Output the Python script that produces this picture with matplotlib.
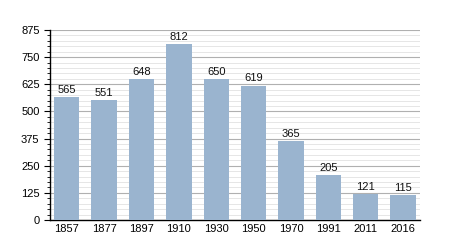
import matplotlib
matplotlib.use('Agg')
import matplotlib.pyplot as plt
from matplotlib.ticker import MultipleLocator

plt.rcParams['font.family'] = ['Liberation Sans', 'DejaVu Sans']

# dados
anos = ['1857', '1877', '1897', '1910', '1930', '1950', '1970', '1991', '2011', '2016']
populacao = [565, 551, 648, 812, 650, 619, 365, 205, 121, 115]

fig = plt.figure(figsize=(4.5, 2.5), dpi=100)
ax = fig.add_axes([0.111, 0.12, 0.822, 0.76])

x = range(len(anos))
ax.bar(x, populacao, width=0.68, color='#9ab4cf', zorder=3)

for xi, v in zip(x, populacao):
    ax.text(xi, v + 10, str(v), ha='center', va='bottom', fontsize=8, color='#111111', zorder=4)

ax.set_xlim(-0.45, len(anos) - 0.55)
ax.set_ylim(0, 875)
ax.set_xticks(list(x))
ax.set_xticklabels(anos, fontsize=8)
ax.yaxis.set_major_locator(MultipleLocator(125))
ax.yaxis.set_minor_locator(MultipleLocator(25))
ax.tick_params(axis='y', labelsize=8, length=4, width=0.8)
ax.tick_params(axis='y', which='minor', length=2, width=0.6)
ax.tick_params(axis='x', length=0, pad=3)

ax.grid(which='major', axis='y', color='#b0b0b0', linewidth=0.8, zorder=0)
ax.grid(which='minor', axis='y', color='#e2e2e2', linewidth=0.6, zorder=0)

for s in ['top', 'right']:
    ax.spines[s].set_visible(False)
ax.spines['left'].set_linewidth(1.0)
ax.spines['bottom'].set_linewidth(1.0)

plt.savefig('out.png', dpi=100)
